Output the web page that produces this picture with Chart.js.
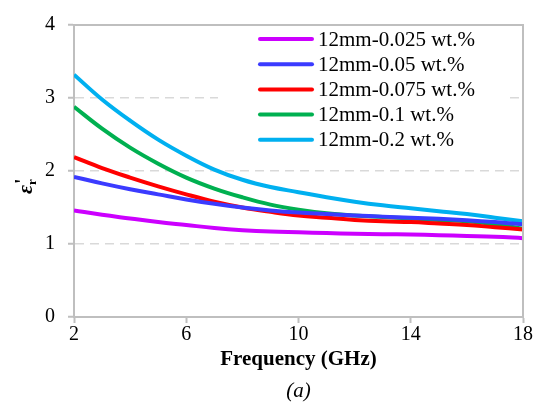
<!DOCTYPE html>
<html>
<head>
<meta charset="utf-8">
<script src="https://cdn.jsdelivr.net/npm/chart.js@4.4.0/dist/chart.umd.min.js"></script>
<style>
  html, body { margin: 0; padding: 0; background: #fff; }
  #wrap { width: 538px; height: 413px; position: relative; }
</style>
</head>
<body>
<div id="wrap"><canvas id="myChart" width="538" height="413"></canvas></div>
<script>
// frequency (GHz)
const freq = [2, 3, 4, 5, 6, 7, 8, 9, 10, 11, 12, 13, 14, 15, 16, 17, 18];

const wt0025 = [1.46, 1.40, 1.35, 1.30, 1.26, 1.22, 1.19, 1.17, 1.16, 1.15, 1.14, 1.135, 1.13, 1.12, 1.11, 1.10, 1.08];
const wt005  = [1.92, 1.83, 1.75, 1.68, 1.61, 1.55, 1.50, 1.46, 1.43, 1.41, 1.39, 1.375, 1.36, 1.345, 1.325, 1.30, 1.27];
const wt0075 = [2.19, 2.04, 1.91, 1.79, 1.68, 1.58, 1.50, 1.44, 1.39, 1.36, 1.33, 1.31, 1.30, 1.28, 1.26, 1.23, 1.20];
const wt01   = [2.88, 2.58, 2.32, 2.10, 1.91, 1.76, 1.64, 1.54, 1.47, 1.42, 1.39, 1.37, 1.35, 1.33, 1.31, 1.27, 1.21];
const wt02   = [3.32, 2.98, 2.69, 2.43, 2.21, 2.02, 1.88, 1.78, 1.71, 1.64, 1.58, 1.53, 1.49, 1.45, 1.41, 1.36, 1.31];

const labels = ['12mm-0.025 wt.%', '12mm-0.05 wt.%', '12mm-0.075 wt.%', '12mm-0.1 wt.%', '12mm-0.2 wt.%'];
const colors = ['#cc00ff', '#3b3bff', '#ff0000', '#00b050', '#00b0f0'];
const series = [wt0025, wt005, wt0075, wt01, wt02];

const xTicks = [2, 6, 10, 14, 18];
const yTicks = [0, 1, 2, 3, 4];

const serif = '"Liberation Serif"';
const axisGray = '#bfbfbf';

function toPoints(ys) {
  return ys.map(function (y, i) { return { x: freq[i], y: y }; });
}

// frame, legend box, y title and caption
const extras = {
  id: 'extras',
  afterDatasetsDraw: function (chart) {
    const ctx = chart.ctx, a = chart.chartArea;
    ctx.save();
    ctx.setLineDash([]);
    ctx.strokeStyle = axisGray;
    ctx.lineWidth = 2;
    ctx.beginPath();
    ctx.moveTo(a.left, a.top);
    ctx.lineTo(a.right, a.top);
    ctx.lineTo(a.right, a.bottom);
    ctx.stroke();

    // legend
    ctx.fillStyle = '#fff';
    ctx.fillRect(218, a.top + 1, 290, 133);
    ctx.font = '21px ' + serif;
    ctx.textBaseline = 'middle';
    ctx.textAlign = 'left';
    ctx.lineCap = 'round';
    chart.data.datasets.forEach(function (ds, i) {
      const y = 39 + i * 25.2;
      ctx.strokeStyle = ds.borderColor;
      ctx.lineWidth = 4;
      ctx.beginPath();
      ctx.moveTo(260, y);
      ctx.lineTo(312, y);
      ctx.stroke();
      ctx.fillStyle = '#000';
      ctx.fillText(ds.label, 318, y + 1);
    });
    ctx.restore();
  },
  afterDraw: function (chart) {
    const ctx = chart.ctx, a = chart.chartArea;
    ctx.save();
    ctx.fillStyle = '#000';
    // y title: eps_r'
    ctx.translate(32, 194);
    ctx.rotate(-Math.PI / 2);
    ctx.textBaseline = 'alphabetic';
    ctx.textAlign = 'left';
    ctx.font = 'bold italic 22px ' + serif;
    ctx.fillText('ε', 0, 0);
    const w = ctx.measureText('ε').width;
    ctx.font = 'bold 13px ' + serif;
    ctx.fillText('r', w, 4);
    ctx.font = 'bold 20px ' + serif;
    ctx.fillText("'", w + 1, -3);
    ctx.restore();

    ctx.save();
    ctx.fillStyle = '#000';
    ctx.font = 'italic 21px ' + serif;
    ctx.textAlign = 'center';
    ctx.textBaseline = 'middle';
    ctx.fillText('(a)', (a.left + a.right) / 2, 391);
    ctx.restore();
  }
};

const config = {
  type: 'line',
  data: {
    datasets: series.map(function (s, i) {
      return {
        label: labels[i],
        data: toPoints(s),
        borderColor: colors[i],
        backgroundColor: colors[i],
        borderWidth: 4,
        pointRadius: 0,
        tension: 0.4,
        fill: false
      };
    })
  },
  options: {
    responsive: false,
    animation: false,
    layout: { padding: { top: 20, right: 15, left: 0, bottom: 0 } },
    plugins: {
      legend: { display: false },
      tooltip: { enabled: false }
    },
    scales: {
      x: {
        type: 'linear',
        min: 2,
        max: 18,
        afterBuildTicks: function (scale) {
          scale.ticks = xTicks.map(function (v) { return { value: v }; });
        },
        afterFit: function (scale) { scale.height = 96; },
        grid: {
          drawOnChartArea: false,
          drawTicks: true,
          tickLength: 6,
          tickColor: axisGray,
          tickWidth: 2
        },
        border: { color: axisGray, width: 2 },
        ticks: {
          color: '#000',
          padding: 0,
          font: { family: serif, size: 20 }
        },
        title: {
          display: true,
          text: 'Frequency (GHz)',
          color: '#000',
          font: { family: serif, size: 21, weight: 'bold' },
          padding: { top: 0, bottom: 41 }
        }
      },
      y: {
        min: 0,
        max: 4,
        afterBuildTicks: function (scale) {
          scale.ticks = yTicks.map(function (v) { return { value: v }; });
        },
        afterFit: function (scale) { scale.width = 74; },
        grid: {
          color: function (c) {
            return (c.tick && (c.tick.value === 0 || c.tick.value === 4)) ? 'rgba(0,0,0,0)' : '#d9d9d9';
          },
          lineWidth: 1.5,
          drawTicks: true,
          tickLength: 6,
          tickColor: axisGray,
          tickWidth: 2
        },
        border: { color: axisGray, width: 2, dash: [9, 6] },
        ticks: {
          color: '#000',
          padding: 13,
          font: { family: serif, size: 20 }
        }
      }
    }
  },
  plugins: [extras]
};

document.fonts.load('20px "Liberation Serif"').then(function () {
  const myChart = new Chart(document.getElementById('myChart'), config);
});
</script>
</body>
</html>
